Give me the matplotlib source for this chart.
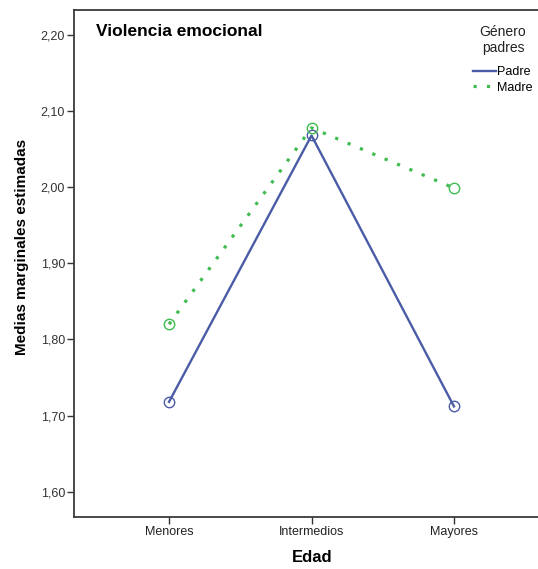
import matplotlib
matplotlib.use('Agg')
import numpy as np
import matplotlib.pyplot as plt
from matplotlib.lines import Line2D

plt.rcParams['font.family'] = ['Liberation Sans', 'DejaVu Sans']

### data ###
edad = ['Menores', 'Intermedios', 'Mayores']
padre = [1.718, 2.068, 1.712]
madre = [1.820, 2.078, 1.999]
yticks = [1.60, 1.70, 1.80, 1.90, 2.00, 2.10, 2.20]

col_p = '#4a5ca6'
col_m = '#3fbb50'
dots = (0, (1, 3.2))

### plot ###
fig = plt.figure(figsize=(5.38, 5.69), dpi=100)
ax = fig.add_axes([74/538., 52/569., 475/538., 507/569.])

x = np.arange(len(edad))
ax.plot(x, padre, color=col_p, lw=1.7, marker='o', ms=7.5, mfc='none', mec=col_p, mew=1.0)
ax.plot(x, madre, color=col_m, lw=2.3, ls=dots, marker='o', ms=7.5, mfc='none', mec=col_m, mew=1.0)

ax.set_xlim(-0.667, 2.667)
ax.set_ylim(1.5667, 2.2329)
ax.set_xticks(x)
ax.set_xticklabels(edad, fontsize=9, color='#222222')
ax.set_yticks(yticks)
ax.set_yticklabels([('%.2f' % v).replace('.', ',') for v in yticks], fontsize=9, color='#333333')
ax.tick_params(length=5, width=1, color='#333333', pad=1.5)

for s in ax.spines.values():
    s.set_color('#3a3a3a')
    s.set_linewidth(1.3)
ax.spines['right'].set_visible(False)

fig.text(312/538., 1 - 558/569., 'Edad', fontsize=12, fontweight='bold', ha='center', va='center')
fig.text(22/538., 1 - 247/569., 'Medias marginales estimadas', fontsize=11, fontweight='bold',
         rotation=90, ha='center', va='center')
fig.text(96/538., 1 - 32/569., 'Violencia emocional', fontsize=12.5, fontweight='bold',
         va='center', ha='left')

# legend title drawn separately so it can sit centred above the entries
fig.text(503/538., 1 - 40/569., 'Género\npadres', fontsize=10, ha='center', va='center',
         multialignment='center', linespacing=1.15, color='#222222')
handles = [Line2D([], [], color=col_p, lw=1.7),
           Line2D([], [], color=col_m, lw=2.3, ls=dots)]
leg = ax.legend(handles, ['Padre', 'Madre'], loc='upper left',
                bbox_to_anchor=(473/538., 1 - 66/569.), bbox_transform=fig.transFigure,
                frameon=False, fontsize=9, handlelength=1.85,
                handletextpad=0.05, labelspacing=0.3, borderpad=0, borderaxespad=0)

plt.savefig('out.png', dpi=100)
